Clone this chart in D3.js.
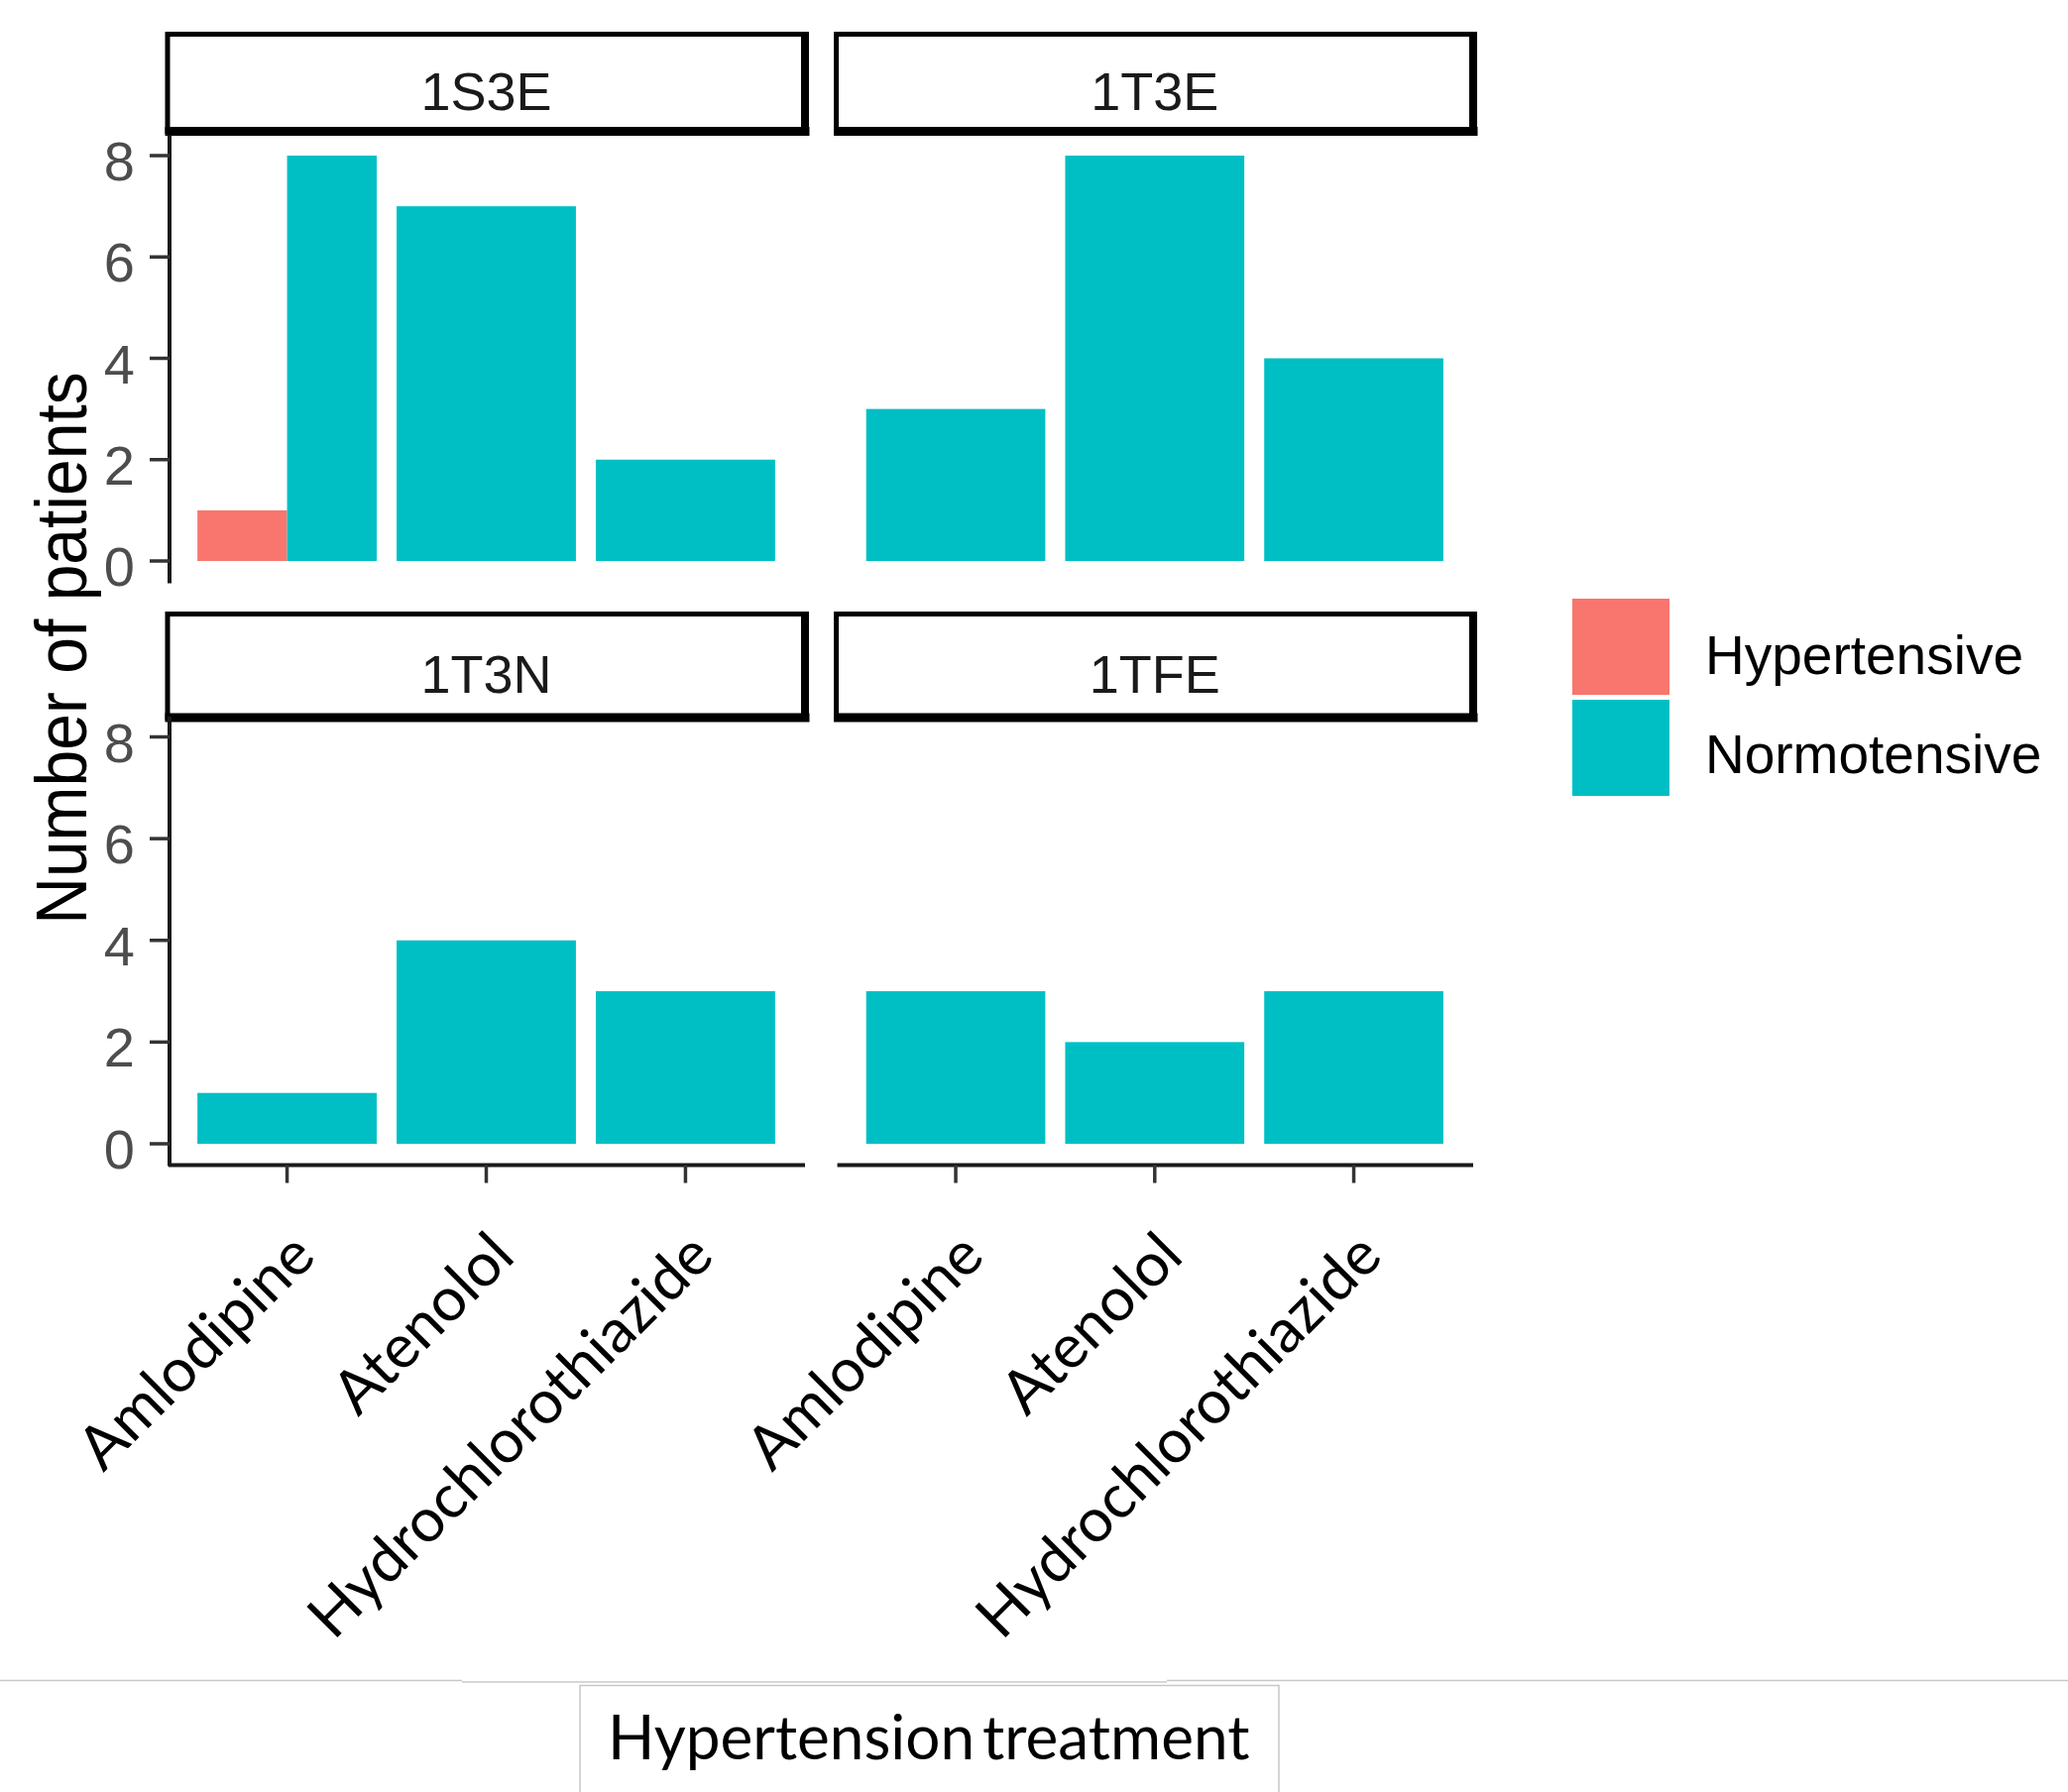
<!DOCTYPE html>
<html><head><meta charset="utf-8">
<script src="https://cdn.jsdelivr.net/npm/d3@7"></script>
<style>html,body{margin:0;padding:0;background:#fff;} svg{display:block;}</style>
</head><body><svg id="chart" width="2086" height="1808"></svg>
<script>
// ---- data ----
const facets = ["1S3E","1T3E","1T3N","1TFE"];
const treatments = ["Amlodipine","Atenolol","Hydrochlorothiazide"];
const groups = ["Hypertensive","Normotensive"];
const hypertensiveCounts = [[1,0,0],[0,0,0],[0,0,0],[0,0,0]];
const normotensiveCounts = [[8,7,2],[3,8,4],[1,4,3],[3,2,3]];
const yTicks = [0,2,4,6,8];
const yTitle = "Number of patients";
const xTitle = "Hypertension treatment";
const groupColors = ["#F8766D","#00BFC4"];

// ---- layout ----
const svg = d3.select("#chart");
const cols = [{left:169,right:812},{left:843.6,right:1486}];
const rows = [
  {stripTop:34.5, stripBottom:132.5, y0:566, y8:157, label:111},
  {stripTop:619.5, stripBottom:724, y0:1154, y8:743.5, label:699}
];
const sansFont = "'Liberation Sans', Arial, sans-serif";
const labelFont = "Lato, 'Open Sans', sans-serif";
const color = d3.scaleOrdinal().domain(groups).range(groupColors);

facets.forEach((f, i) => {
  const c = cols[i % 2], r = rows[Math.floor(i / 2)];
  const x = d3.scalePoint().domain(treatments).range([c.left, c.right]).padding(0.6);
  const y = d3.scaleLinear().domain([0, 8]).range([r.y0, r.y8]);
  const step = x.step();
  const g = svg.append("g");

  // bars (dodged within each treatment)
  const bars = [];
  treatments.forEach((t, j) => {
    const vals = [hypertensiveCounts[i][j], normotensiveCounts[i][j]];
    const present = groups.map((gr, k) => ({group: gr, value: vals[k]})).filter(d => d.value > 0);
    const w = 0.9 * step, n = present.length;
    present.forEach((d, k) => bars.push({t, group: d.group, value: d.value, x0: x(t) - w / 2 + k * w / n, w: w / n}));
  });
  g.selectAll("rect.bar").data(bars).join("rect").attr("class","bar")
    .attr("x", d => d.x0).attr("width", d => d.w)
    .attr("y", d => y(d.value)).attr("height", d => y(0) - y(d.value))
    .attr("fill", d => color(d.group));

  // strip
  g.append("rect").attr("x", c.left).attr("y", r.stripTop)
    .attr("width", c.right - c.left).attr("height", r.stripBottom - r.stripTop)
    .attr("fill", "#fff").attr("stroke", "#000").attr("stroke-width", 5);
  g.append("line").attr("x1", c.left - 2.5).attr("x2", c.right + 4.5)
    .attr("y1", r.stripBottom).attr("y2", r.stripBottom).attr("stroke", "#000").attr("stroke-width", 9);
  g.append("line").attr("x1", c.right).attr("x2", c.right)
    .attr("y1", r.stripTop - 2.5).attr("y2", r.stripBottom).attr("stroke", "#000").attr("stroke-width", 8);
  g.append("text").attr("x", (c.left + c.right) / 2).attr("y", r.label)
    .attr("text-anchor", "middle").attr("font-family", sansFont).attr("font-size", 54)
    .attr("fill", "#1a1a1a").text(f);

  // y axis (left column)
  if (i % 2 === 0) {
    const ax = c.left + 2;
    g.append("line").attr("x1", ax).attr("x2", ax).attr("y1", y(8.4)).attr("y2", y(-0.4) + 2)
      .attr("stroke", "#1a1a1a").attr("stroke-width", 4);
    g.selectAll("line.ytick").data(yTicks).join("line").attr("class","ytick")
      .attr("x1", ax - 20).attr("x2", ax).attr("y1", d => y(d)).attr("y2", d => y(d))
      .attr("stroke", "#333").attr("stroke-width", 3.5);
    g.selectAll("text.ylab").data(yTicks).join("text").attr("class","ylab")
      .attr("x", ax - 35).attr("y", d => y(d) + 25).attr("text-anchor", "end")
      .attr("font-family", sansFont).attr("font-size", 56).attr("fill", "#4d4d4d").text(d => d);
  }

  // x axis (bottom row)
  if (Math.floor(i / 2) === 1) {
    const ay = y(-0.4) + 1;
    g.append("line").attr("x1", c.left + 1).attr("x2", c.right).attr("y1", ay).attr("y2", ay)
      .attr("stroke", "#1a1a1a").attr("stroke-width", 4);
    g.selectAll("line.xtick").data(treatments).join("line").attr("class","xtick")
      .attr("x1", d => x(d)).attr("x2", d => x(d)).attr("y1", ay).attr("y2", ay + 18)
      .attr("stroke", "#333").attr("stroke-width", 3.5);
    const labs = g.selectAll("text.xlab").data(treatments).join("text").attr("class","xlab")
      .attr("text-anchor", "end").attr("font-family", labelFont).attr("font-size", 66)
      .attr("fill", "#000")
      .attr("transform", d => `translate(${x(d) + 31},1270) rotate(-45)`).text(d => d);
    // size so the longest label spans the same length as in the reference
    const longest = labs.filter(d => d === "Hydrochlorothiazide").node().getComputedTextLength();
    labs.attr("font-size", 66 * 546 / longest);
  }
});

// y title
svg.append("text").attr("text-anchor", "middle").attr("font-family", sansFont)
  .attr("font-size", 66).attr("fill", "#000")
  .attr("transform", "translate(87,654) rotate(-90) scale(1,1.1)").text(yTitle);

// legend
const lg = svg.append("g");
groups.forEach((gr, k) => {
  lg.append("rect").attr("x", 1586).attr("y", 604 + k * 102).attr("width", 98).attr("height", 97)
    .attr("fill", color(gr));
  lg.append("text").attr("x", 1720).attr("y", 680 + k * 100).attr("font-family", sansFont)
    .attr("font-size", 55).attr("fill", "#000").text(gr);
});

// bottom overlay: separator line, box and x title
const sep = svg.append("g").attr("stroke", "#c8c8c8").attr("stroke-width", 1.5).attr("fill", "none");
sep.append("line").attr("x1", 0).attr("x2", 466).attr("y1", 1695.5).attr("y2", 1695.5);
sep.append("line").attr("x1", 466).attr("x2", 1177).attr("y1", 1697).attr("y2", 1697);
sep.append("line").attr("x1", 1177).attr("x2", 2086).attr("y1", 1695.5).attr("y2", 1695.5);
sep.append("rect").attr("x", 585).attr("y", 1700.5).attr("width", 705).attr("height", 120);
const xt = svg.append("text").attr("x", 613).attr("y", 1775).attr("font-family", labelFont)
  .attr("font-size", 66).attr("word-spacing", -8).attr("fill", "#000").text(xTitle);
const xtl = xt.node().getComputedTextLength();
xt.attr("font-size", 66 * 648 / xtl);
</script>
</body></html>
